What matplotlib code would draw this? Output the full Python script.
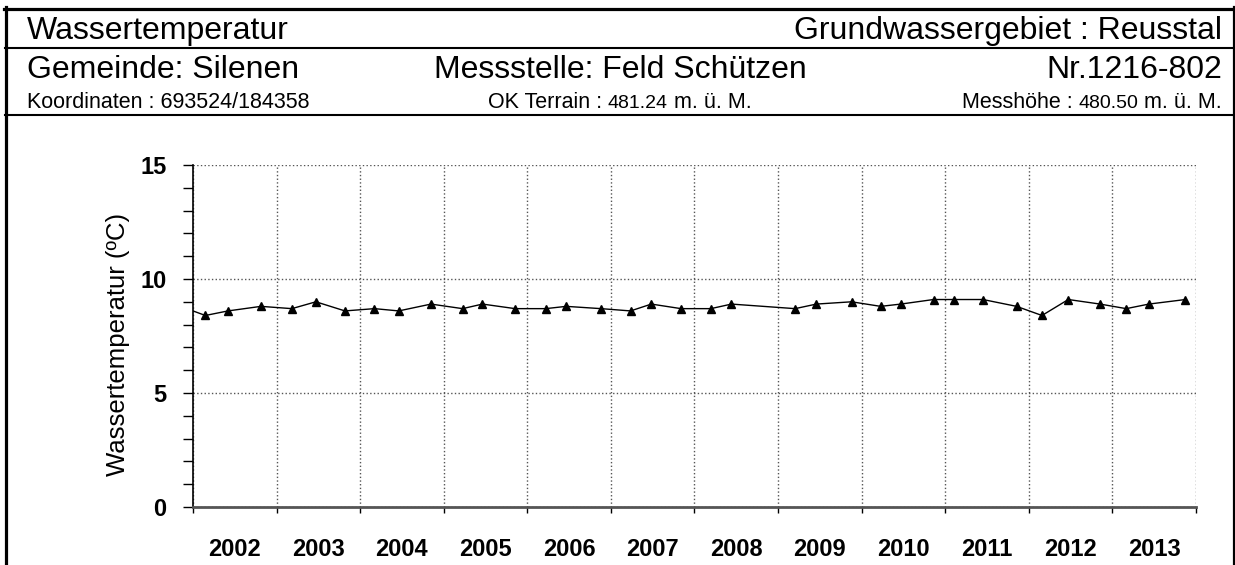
import matplotlib
matplotlib.use('Agg')
import matplotlib.pyplot as plt
import matplotlib.dates as mdates
from matplotlib.lines import Line2D
from matplotlib.ticker import MultipleLocator, NullFormatter
import pandas as pd

# messwerte wassertemperatur (°C), Messstelle 1216-802
dates = ["2001-11-08", "2002-02-24", "2002-06-03", "2002-10-25", "2003-03-09",
         "2003-06-22", "2003-10-27", "2004-03-04", "2004-06-18", "2004-11-06",
         "2005-03-24", "2005-06-19", "2005-11-09", "2006-03-22", "2006-06-20",
         "2006-11-19", "2007-03-28", "2007-06-27", "2007-11-04", "2008-03-13",
         "2008-06-11", "2009-03-16", "2009-06-17", "2009-11-18", "2010-03-25",
         "2010-06-21", "2010-11-11", "2011-02-07", "2011-06-15", "2011-11-09",
         "2012-02-28", "2012-06-22", "2012-11-08", "2013-03-02", "2013-06-09",
         "2013-11-16"]
temps = [8.8, 8.4, 8.6, 8.8, 8.7,
         9.0, 8.6, 8.7, 8.6, 8.9,
         8.7, 8.9, 8.7, 8.7, 8.8,
         8.7, 8.6, 8.9, 8.7, 8.7,
         8.9, 8.7, 8.9, 9.0, 8.8,
         8.9, 9.1, 9.1, 9.1, 8.8,
         8.4, 9.1, 8.9, 8.7, 8.9,
         9.1]
y_ticks = [0, 5, 10, 15]

title = "Wassertemperatur"
gebiet = "Grundwassergebiet : Reusstal"
gemeinde = "Gemeinde: Silenen"
messstelle = "Messstelle: Feld Schützen"
nummer = "Nr.1216-802"
koordinaten = "Koordinaten : 693524/184358"
ok_terrain = ["OK Terrain :", "481.24", "m. ü. M."]
messhoehe = ["Messhöhe :", "480.50", "m. ü. M."]

plt.rcParams['font.family'] = ['Liberation Sans', 'DejaVu Sans']

W, H = 1235, 565
fig = plt.figure(figsize=(W / 100, H / 100), dpi=100)


def fx(px):
    return px / W


def fy(py):
    return 1 - py / H


def hline(y, x0, x1, lw):
    fig.add_artist(Line2D([fx(x0), fx(x1)], [fy(y), fy(y)], color='black', lw=lw))


def vline(x, y0, y1, lw):
    fig.add_artist(Line2D([fx(x), fx(x)], [fy(y0), fy(y1)], color='black', lw=lw))


# rahmen und trennlinien
vline(5.5, 7, H, 2.3)
vline(1233.5, 7, H, 2.3)
hline(8.5, 4, W, 2.3)
hline(48, 5, 1233, 1.5)
hline(115, 5, 1233, 1.5)

renderer = fig.canvas.get_renderer()


def text_row(x, y, pieces, ha):
    """Text aus Teilen mit verschiedenen Schriftgroessen auf einer Grundlinie."""
    arts, widths = [], []
    for s, size in pieces:
        t = fig.text(0, fy(y), s, fontsize=size, va='baseline', ha='left')
        arts.append(t)
        widths.append(t.get_window_extent(renderer).width)
    gaps = [0.278 * pieces[i + 1][1] * 100 / 72 for i in range(len(pieces) - 1)] + [0]
    total = sum(widths) + sum(gaps)
    if ha == 'left':
        cur = x
    elif ha == 'center':
        cur = x - total / 2
    else:
        cur = x - total
    for t, w, g in zip(arts, widths, gaps):
        t.set_x(fx(cur))
        cur += w + g


big, small, num = 23, 15.5, 14
text_row(27, 39, [(title, big)], 'left')
text_row(1222, 39, [(gebiet, big)], 'right')
text_row(27, 78, [(gemeinde, big)], 'left')
text_row(620, 78, [(messstelle, big)], 'center')
text_row(1222, 78, [(nummer, big)], 'right')
text_row(27, 108, [(koordinaten, small)], 'left')
text_row(620, 108, [(ok_terrain[0], small), (ok_terrain[1], num), (ok_terrain[2], small)], 'center')
text_row(1222, 108, [(messhoehe[0], small), (messhoehe[1], num), (messhoehe[2], small)], 'right')

# diagramm
ax = fig.add_axes([fx(193), 1 - 507 / H, (1196 - 193) / W, (507 - 165) / H])
x = pd.to_datetime(dates)
ax.plot(x, temps, color='black', lw=1, marker='^', ms=5.5, mfc='black', mec='black')

ax.set_xlim(pd.Timestamp("2002-01-01"), pd.Timestamp("2014-01-01"))
ax.set_ylim(0, 15)
ax.set_yticks(y_ticks)
ax.yaxis.set_minor_locator(MultipleLocator(1))

ax.xaxis.set_major_locator(mdates.YearLocator())
ax.xaxis.set_major_formatter(NullFormatter())
ax.xaxis.set_minor_locator(mdates.MonthLocator(bymonth=7, bymonthday=2))
ax.xaxis.set_minor_formatter(mdates.DateFormatter('%Y'))

ax.grid(True, which='major', linestyle=':', color='#555555', lw=1)

ax.tick_params(axis='y', which='both', direction='out', length=7, width=1,
               labelsize=17, pad=12)
ax.tick_params(axis='x', which='major', direction='out', length=4, width=1)
ax.tick_params(axis='x', which='minor', length=0, labelsize=17, pad=22)
for lab in ax.get_yticklabels() + ax.get_xticklabels(minor=True):
    lab.set_fontweight('bold')

ax.spines['top'].set_visible(False)
ax.spines['right'].set_visible(False)
ax.spines['left'].set_linewidth(1.2)
ax.spines['bottom'].set_color('#555555')
ax.spines['bottom'].set_linewidth(2)

ax.set_ylabel("Wassertemperatur (ºC)", fontsize=18.5)
ax.yaxis.label.set_va('center')
ax.yaxis.set_label_coords((118 - 193) / 1003, (507 - 344) / 342)

fig.savefig("out.png", dpi=100)
